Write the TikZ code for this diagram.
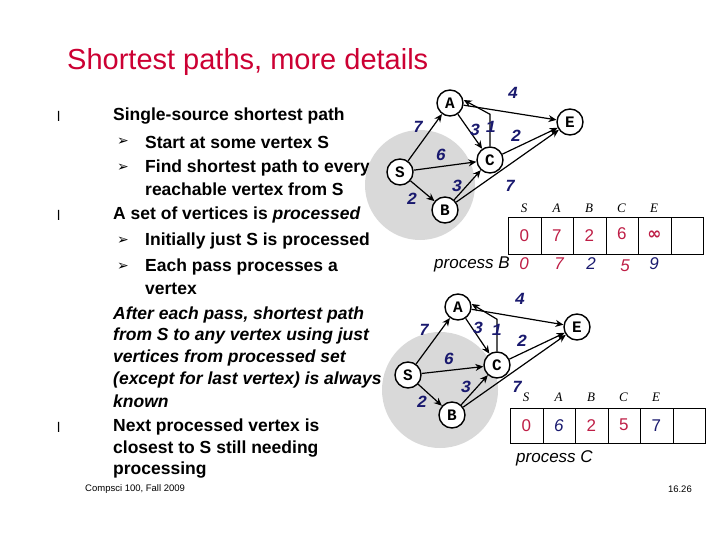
\documentclass[tikz,border=0pt]{standalone}
\usepackage{fontspec}
\setmainfont{Liberation Sans}
\newfontfamily\dejavu{DejaVu Sans}
\newfontfamily\mono{Liberation Mono}
\newfontfamily\serifit{Liberation Serif}
\usetikzlibrary{arrows.meta,patterns}
\definecolor{ttl}{RGB}{204,0,51}
\definecolor{wt}{RGB}{25,25,110}
\definecolor{rd}{RGB}{190,30,70}
\tikzset{
 vx/.style={circle,draw,line width=1.4pt,fill=white,minimum size=26pt,inner sep=0pt,font=\mono\bfseries\fontsize{16}{16}\selectfont},
 ed/.style={line width=1.2pt,-{Stealth[length=8pt,width=7pt]}},
 wl/.style={text=wt,font=\mono\bfseries\itshape\fontsize{17}{17}\selectfont},
 cell/.style={draw,thin,minimum width=32.5pt,minimum height=37pt,inner sep=0pt,anchor=north west},
 hd/.style={font=\serifit\itshape\fontsize{13}{13}\selectfont},
 num/.style={font=\fontsize{17}{17}\selectfont},
 inum/.style={font=\itshape\fontsize{17}{17}\selectfont},
 tx/.style={anchor=west,font=\bfseries\fontsize{17.5}{18}\selectfont,inner sep=0pt},
 itx/.style={anchor=west,font=\bfseries\itshape\fontsize{17.5}{18}\selectfont,inner sep=0pt},
 bl/.style={anchor=west,font=\fontsize{14}{14}\selectfont,inner sep=0pt},
 ar/.style={anchor=west,font=\dejavu\fontsize{14}{14}\selectfont,inner sep=0pt},
 shade/.style={fill=gray!30,draw=none}
}
\begin{document}
\begin{tikzpicture}[x=1pt,y=-1pt]
\useasboundingbox (0,0) rectangle (720,540);
\node[anchor=west,text=ttl,font=\fontsize{29}{29}\selectfont,inner sep=0pt] (title) at (67,62) {Shortest paths, more details};
% bullets
\node[bl] (b1) at (57,116) {l};
\node[tx] (t1) at (113,116) {Single-source shortest path};
\node[ar] (a1) at (117,142) {➢};
\node[tx] (t2) at (145,142) {Start at some vertex S};
\node[ar] (a2) at (117,168) {➢};
\node[tx] (t3) at (145,168) {Find shortest path to every};
\node[tx] (t4) at (145,189) {reachable vertex from S};
\node[bl] (b2) at (57,215) {l};
\node[tx] (t5) at (113,215) {A set of vertices is \textit{processed}};
\node[ar] (a3) at (117,241) {➢};
\node[tx] (t6) at (145,241) {Initially just S is processed};
\node[ar] (a4) at (117,267) {➢};
\node[tx] (t7) at (145,267) {Each pass processes a};
\node[tx] (t8) at (145,289) {vertex};
\node[itx] (t9) at (113,315) {After each pass, shortest path};
\node[itx] (t10) at (113,336) {from S to any vertex using just};
\node[itx] (t11) at (113,358) {vertices from processed set};
\node[itx] (t12) at (113,380) {(except for last vertex) is always};
\node[itx] (t13) at (113,401) {known};
\node[bl] (b3) at (57,427) {l};
\node[tx] (t14) at (113,427) {Next processed vertex is};
\node[tx] (t15) at (113,449) {closest to S still needing};
\node[tx] (t16) at (113,470) {processing};
\node[anchor=west,font=\fontsize{9.5}{9.5}\selectfont,inner sep=0pt] (foot) at (85,489) {Compsci 100, Fall 2009};
\node[anchor=east,font=\fontsize{9.5}{9.5}\selectfont,inner sep=0pt] (pg) at (692,489) {16.26};
% ===== top graph
\fill[shade] (420,185) circle (55);
\node[vx] (A) at (450,103) {A};
\node[vx] (E) at (570,122) {E};
\node[vx] (C) at (490,160) {C};
\node[vx] (S) at (400,172) {S};
\node[vx] (B) at (445,210) {B};
\draw[ed] (S)--(A); \draw[ed] (S)--(C); \draw[ed] (S)--(B);
\draw[ed] (A)--(C); \draw[ed] (A)--(E); \draw[ed] (C)--(E);
\draw[ed] (B)--(C); \draw[ed] (B)--(E);
\draw[ed] (C.north) -- ++(0,-32) -- ([yshift=3]A.east);
\node[wl] (w1) at (513,93) {4}; \node[wl] (w2) at (418,127) {7};
\node[wl] (w3) at (475,130) {3}; \node[wl] (w4) at (491,127) {1};
\node[wl] (w5) at (516,136) {2}; \node[wl] (w6) at (441,155) {6};
\node[wl] (w7) at (457,186) {3}; \node[wl] (w8) at (510,186) {7};
\node[wl] (w9) at (412,199) {2};
\foreach \i/\h in {0/S,1/A,2/B,3/C,4/E,5/{}} {
 \node[cell] (c\i) at (508+32.5*\i,217) {};
 \node[hd] (h\i) at (524+32.5*\i,208) {\h};
}
\node[num,text=rd] (n0) at (c0) {0};
\node[num,text=rd] (n1) at (c1) {7};
\node[num,text=rd] (n2) at (c2) {2};
\node[num,text=rd] (n3) at ([yshift=2]c3.center) {6};
\node[num,text=rd,font=\dejavu\bfseries\fontsize{17}{17}\selectfont] (n4) at (c4) {∞};
\node[anchor=east,font=\itshape\fontsize{17}{17}\selectfont,inner sep=0pt] (pb) at (510,264) {process B};
\node[inum,text=rd] (p0) at (524,264) {0};
\node[inum,text=rd] (p1) at (559,264) {7};
\node[inum,text=wt] (p2) at (591,264) {2};
\node[inum,text=rd] (p3) at (625,266) {5};
\node[inum,text=wt] (p4) at (654,264) {9};
% ===== bottom graph
\fill[shade] (440,390) circle (58);
\node[vx] (A2) at (458,307) {A};
\node[vx] (E2) at (577,327) {E};
\node[vx] (C2) at (497,365) {C};
\node[vx] (S2) at (408,375) {S};
\node[vx] (B2) at (452,415) {B};
\draw[ed] (S2)--(A2); \draw[ed] (S2)--(C2); \draw[ed] (S2)--(B2);
\draw[ed] (A2)--(C2); \draw[ed] (A2)--(E2); \draw[ed] (C2)--(E2);
\draw[ed] (B2)--(C2); \draw[ed] (B2)--(E2);
\draw[ed] (C2.north) -- ++(0,-32) -- ([yshift=3]A2.east);
\node[wl] (v1) at (520,299) {4}; \node[wl] (v2) at (424,330) {7};
\node[wl] (v3) at (478,328) {3}; \node[wl] (v4) at (497,330) {1};
\node[wl] (v5) at (522,341) {2}; \node[wl] (v6) at (449,359) {6};
\node[wl] (v7) at (466,387) {3}; \node[wl] (v8) at (517,387) {7};
\node[wl] (v9) at (422,402) {2};
\foreach \i/\h in {0/S,1/A,2/B,3/C,4/E,5/{}} {
 \node[cell,minimum height=35pt] (d\i) at (510+32.5*\i,408) {};
 \node[hd] (g\i) at (526+32.5*\i,397) {\h};
}
\node[num,text=rd] (m0) at (d0) {0};
\node[inum,text=wt] (m1) at (d1) {6};
\node[num,text=rd] (m2) at (d2) {2};
\node[num,text=rd] (m3) at ([yshift=1]d3.center) {5};
\node[num,text=wt] (m4) at (d4) {7};
\node[anchor=west,font=\itshape\fontsize{17}{17}\selectfont,inner sep=0pt] (pc) at (516,458) {process C};
\end{tikzpicture}
\end{document}
